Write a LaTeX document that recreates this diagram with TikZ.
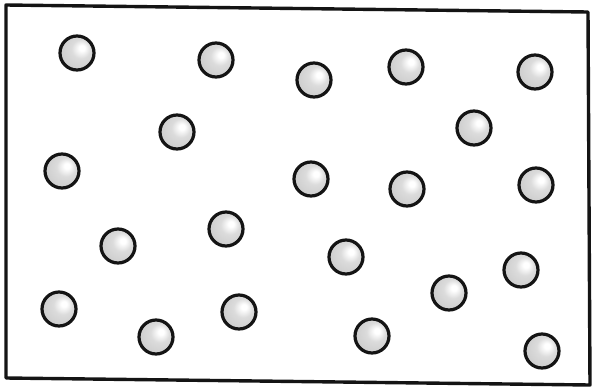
\documentclass[tikz,border=0pt]{standalone}
\pgfdeclareradialshading{ballshade}{\pgfpoint{8bp}{8bp}}{%
  color(0bp)=(white); color(4bp)=(white); color(14bp)=(black!14); color(30bp)=(black!20); color(50bp)=(black!22)}
\tikzset{
  ball/.style={circle, minimum size=34pt, inner sep=0pt, line width=3.2pt, draw=black!92, shading=ballshade},
  frame/.style={line width=3.4pt, line join=round, draw=black!92}
}
\begin{document}
\begin{tikzpicture}[x=1pt,y=-1pt]
\useasboundingbox (0,0) rectangle (592,389);
\fill[white] (0,0) rectangle (592,389);
\draw[frame] (6,5) -- (588,12) -- (590,385) -- (6,378) -- cycle;
\foreach \n/\x/\y in {1/77/53, 2/216/60, 3/314/80, 4/406/67, 5/535/72,
  6/177/132, 7/474/128,
  8/62/171, 9/311/179, 10/407/189, 11/536/185,
  12/226/229, 13/118/246, 14/346/257, 15/521/270,
  16/449/293,
  17/59/309, 18/239/312, 19/156/337, 20/372/336, 21/542/351}
  \node[ball] (b\n) at (\x,\y) {};
\end{tikzpicture}
\end{document}
